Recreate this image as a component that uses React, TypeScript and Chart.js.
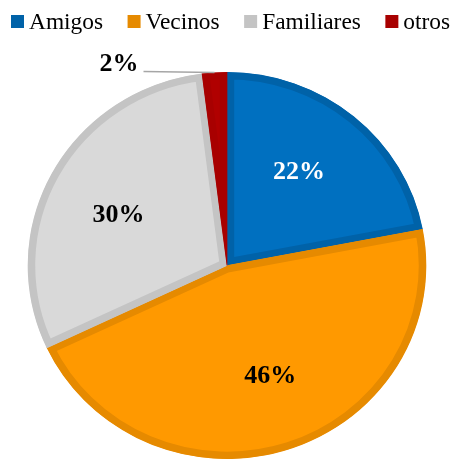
import React, { useEffect, useRef } from "react";
import { Chart, registerables } from "chart.js";

Chart.register(...registerables);

const categories: string[] = ["Amigos", "Vecinos", "Familiares", "otros"];
const percentages: number[] = [22, 46, 30, 2];
const fillColors: string[] = ["#0070C0", "#FF9900", "#D9D9D9", "#B00000"];
const borderColors: string[] = ["#0062A8", "#E68A00", "#C4C4C4", "#A80000"];
const legendColors: string[] = ["#0062A8", "#E68A00", "#C4C4C4", "#A80000"];
const labelColors: string[] = ["#FFFFFF", "#000000", "#000000", "#000000"];

const FONT = "'Liberation Serif', 'Times New Roman', serif";
const X_STRETCH = 1.03;

const stretchPlugin = {
  id: "stretch",
  beforeDatasetsDraw(chart: any) {
    const meta = chart.getDatasetMeta(0);
    const arc = meta.data[0];
    if (!arc) return;
    const ctx = chart.ctx as CanvasRenderingContext2D;
    ctx.save();
    ctx.translate(arc.x, arc.y);
    ctx.scale(X_STRETCH, 1);
    ctx.translate(-arc.x, -arc.y);
  },
  afterDatasetsDraw(chart: any) {
    chart.ctx.restore();
  },
};

const legendPlugin = {
  id: "customLegend",
  afterDraw(chart: any) {
    const ctx = chart.ctx as CanvasRenderingContext2D;
    ctx.save();
    ctx.font = `23.4px ${FONT}`;
    ctx.textBaseline = "alphabetic";
    ctx.textAlign = "left";
    let x = 11;
    const box = 13;
    categories.forEach((name, i) => {
      ctx.fillStyle = legendColors[i];
      ctx.fillRect(x, 15, box, box);
      ctx.fillStyle = "#000000";
      ctx.fillText(name, x + box + 5, 28.5);
      const w = ctx.measureText(name).width;
      x += box + 5 + w + 24.5;
    });
    ctx.restore();
  },
};

const labelPlugin = {
  id: "sliceLabels",
  afterDatasetsDraw(chart: any) {
    const ctx = chart.ctx as CanvasRenderingContext2D;
    const meta = chart.getDatasetMeta(0);
    ctx.save();
    ctx.font = `bold 26px ${FONT}`;
    meta.data.forEach((arc: any, i: number) => {
      const { x, y, startAngle, endAngle, outerRadius } = arc.getProps(
        ["x", "y", "startAngle", "endAngle", "outerRadius"],
        true
      );
      const mid = (startAngle + endAngle) / 2;
      const text = `${percentages[i]}%`;
      if (percentages[i] < 5) {
        const ex = x + Math.cos(mid) * outerRadius * X_STRETCH;
        const ey = y + Math.sin(mid) * outerRadius;
        const lx = ex - 71;
        const ly = ey - 1;
        ctx.strokeStyle = "#A6A6A6";
        ctx.lineWidth = 1.5;
        ctx.beginPath();
        ctx.moveTo(ex, ey);
        ctx.lineTo(lx, ly);
        ctx.stroke();
        ctx.fillStyle = labelColors[i];
        ctx.textAlign = "right";
        ctx.textBaseline = "alphabetic";
        ctx.fillText(text, lx - 5, ly - 0.5);
      } else {
        const a = mid - (3 * Math.PI) / 180;
        const r = outerRadius * 0.605;
        ctx.fillStyle = labelColors[i];
        ctx.textAlign = "center";
        ctx.textBaseline = "middle";
        ctx.fillText(text, x + Math.cos(a) * r * X_STRETCH, y + Math.sin(a) * r + 1);
      }
    });
    ctx.restore();
  },
};

export default function App() {
  const canvasRef = useRef<HTMLCanvasElement | null>(null);

  useEffect(() => {
    let chart: Chart | null = null;
    let cancelled = false;
    const build = () => {
      if (cancelled || !canvasRef.current) return;
      chart = new Chart(canvasRef.current, {
        type: "pie",
        data: {
          labels: categories,
          datasets: [
            {
              data: percentages,
              backgroundColor: fillColors,
              borderColor: borderColors,
              borderWidth: 7,
              borderAlign: "inner",
            } as any,
          ],
        },
        options: {
          responsive: false,
          animation: false,
          layout: { padding: { top: 72, bottom: 7, left: 0, right: 0 } },
          plugins: {
            legend: { display: false },
            tooltip: { enabled: false },
          },
        },
        plugins: [stretchPlugin, labelPlugin, legendPlugin],
      });
    };
    const fonts: any = (document as any).fonts;
    if (fonts && fonts.load) {
      Promise.all([
        fonts.load(`23px 'Liberation Serif'`),
        fonts.load(`bold 26px 'Liberation Serif'`),
      ])
        .catch(() => null)
        .then(build);
    } else {
      build();
    }
    return () => {
      cancelled = true;
      if (chart) chart.destroy();
    };
  }, []);

  return (
    <div style={{ position: "absolute", left: 0, top: 0, width: 454, height: 466, background: "#FFFFFF" }}>
      <canvas ref={canvasRef} width={454} height={466} style={{ display: "block" }} />
    </div>
  );
}
